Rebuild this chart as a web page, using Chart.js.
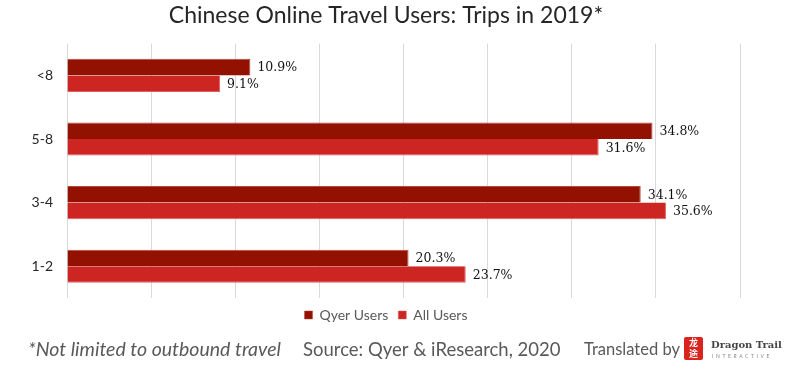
<!DOCTYPE html>
<html>
<head>
<meta charset="utf-8">
<script src="https://cdn.jsdelivr.net/npm/chart.js@4"></script>
<style>
  html, body { margin: 0; padding: 0; background: #fff; }
  #wrap { width: 800px; height: 372px; }
</style>
</head>
<body>
<div id="wrap"><canvas id="chartTrips"></canvas></div>
<script>
// data
const categories = ['<8', '5-8', '3-4', '1-2'];
const qyerUsers = [10.9, 34.8, 34.1, 20.3];
const allUsers = [9.1, 31.6, 35.6, 23.7];
const seriesNames = ['Qyer Users', 'All Users'];
const footNote = '*Not limited to outbound travel';
const sourceText = 'Source: Qyer & iResearch, 2020';
const creditText = 'Translated by';

const sansFont = "'Lato', 'DejaVu Sans', sans-serif";

// value labels at the end of each bar
const valueLabels = {
    id: 'valueLabels',
    afterDatasetsDraw(chart) {
        const ctx = chart.ctx;
        ctx.save();
        ctx.font = "12.5px 'DejaVu Serif', serif";
        ctx.fillStyle = '#111';
        ctx.textBaseline = 'middle';
        ctx.textAlign = 'left';
        chart.data.datasets.forEach((ds, i) => {
            chart.getDatasetMeta(i).data.forEach((bar, j) => {
                ctx.fillText(ds.data[j].toFixed(1) + '%', bar.x + 7, bar.y + 1);
            });
        });
        ctx.restore();
    }
};

// footer line with source and logo
const footer = {
    id: 'footer',
    afterDraw(chart) {
        const ctx = chart.ctx;
        const y = 350;
        ctx.save();
        ctx.fillStyle = '#595959';
        ctx.textBaseline = 'middle';
        ctx.textAlign = 'left';
        ctx.font = "italic 19.5px " + sansFont;
        ctx.fillText(footNote, 28, y);
        ctx.font = "18.5px " + sansFont;
        ctx.fillText(sourceText, 303, y);
        ctx.font = "16.5px " + sansFont;
        ctx.fillText(creditText, 584, y);

        // logo
        ctx.fillStyle = '#d9251d';
        ctx.beginPath();
        ctx.roundRect(684, 337, 19, 23, 2);
        ctx.fill();
        ctx.fillStyle = '#fff';
        ctx.textAlign = 'center';
        ctx.font = "bold 9px 'Noto Sans CJK SC'";
        ctx.fillText('龙', 693.5, 343);
        ctx.fillText('途', 693.5, 354);
        ctx.textAlign = 'left';
        ctx.fillStyle = '#444';
        ctx.font = "bold 10px 'DejaVu Serif', serif";
        ctx.fillText('Dragon Trail', 711, 345);
        ctx.fillStyle = '#888';
        ctx.font = "5px " + sansFont;
        ctx.letterSpacing = '2.6px';
        ctx.fillText('INTERACTIVE', 712, 356);
        ctx.restore();
    }
};

new Chart(document.getElementById('chartTrips'), {
    type: 'bar',
    data: {
        labels: categories,
        datasets: [
            {
                label: seriesNames[0],
                data: qyerUsers,
                backgroundColor: '#921100',
                borderColor: '#b8473c',
                borderWidth: { top: 1, right: 1, bottom: 0, left: 0 },
                borderSkipped: 'left'
            },
            {
                label: seriesNames[1],
                data: allUsers,
                backgroundColor: '#cc2522',
                borderColor: '#e0625c',
                borderWidth: { top: 0, right: 1, bottom: 1, left: 0 },
                borderSkipped: 'left'
            }
        ]
    },
    options: {
        indexAxis: 'y',
        responsive: true,
        maintainAspectRatio: false,
        animation: false,
        categoryPercentage: 0.52,
        barPercentage: 1,
        layout: { padding: { left: 32, right: 60, top: 0, bottom: 40 } },
        scales: {
            x: {
                min: 0,
                max: 40,
                ticks: { display: false, stepSize: 5 },
                grid: { color: '#d9d9d9', drawTicks: false },
                border: { display: false }
            },
            y: {
                ticks: { color: '#262626', font: { family: sansFont, size: 14 }, padding: 6 },
                grid: { display: false },
                border: { display: false },
                afterFit(scale) { scale.width = 35; }
            }
        },
        plugins: {
            title: {
                display: true,
                text: 'Chinese Online Travel Users: Trips in 2019*',
                color: '#262626',
                font: { family: sansFont, size: 23, weight: 'normal' },
                padding: { top: 2, bottom: 14 }
            },
            legend: {
                position: 'bottom',
                labels: {
                    boxWidth: 8,
                    boxHeight: 8,
                    color: '#595959',
                    font: { family: sansFont, size: 14 },
                    padding: 10
                }
            },
            tooltip: { enabled: false }
        }
    },
    plugins: [valueLabels, footer]
});
</script>
</body>
</html>
